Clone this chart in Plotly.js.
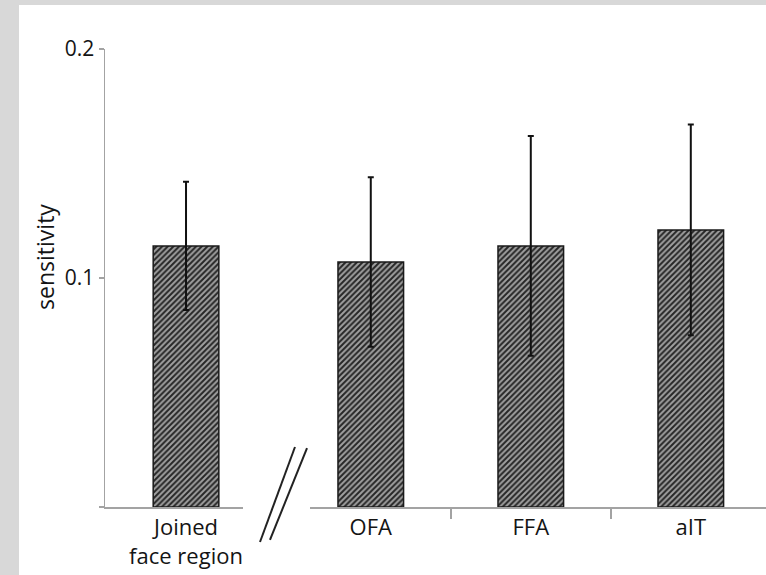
<!DOCTYPE html>
<html>
<head>
<meta charset="utf-8">
<script src="https://cdn.plot.ly/plotly-3.0.1.min.js"></script>
<style>
  html, body { margin: 0; padding: 0; background: #d8d8d8; width: 766px; height: 575px; overflow: hidden; }
  #panel { position: absolute; left: 19px; top: 5px; width: 747px; height: 570px; background: #ffffff; }
  #chart { position: absolute; left: 0; top: 0; width: 766px; height: 575px; }
</style>
</head>
<body>
<div id="panel"></div>
<div id="chart"></div>
<script>
// Data
const joinedCategory = ["Joined<br>face region"];
const joinedValue = [0.114];
const joinedError = [0.028];

const regionCategories = ["OFA", "FFA", "aIT"];
const regionValues = [0.107, 0.114, 0.121];
const regionErrors = [0.037, 0.048, 0.046];

const yTickVals = [0, 0.1, 0.2];
const yTickText = ["", "0.1", "0.2"];
const yTitle = "sensitivity";

const fontFamily = '"Open Sans", "Noto Sans", sans-serif';
const axisGray = "#a3a3a3";
const textColor = "#141414";

const barStyle = {
  color: "#808080",
  line: { color: "#1a1a1a", width: 1.5 },
  pattern: { shape: "/", fgcolor: "#262626", bgcolor: "#a0a0a0", size: 4, solidity: 0.5 }
};
const errStyle = (arr) => ({ type: "data", array: arr, visible: true, color: "#111", thickness: 2, width: 3 });

const traces = [
  {
    type: "bar", x: joinedCategory, y: joinedValue, xaxis: "x", yaxis: "y",
    width: 0.41, marker: barStyle, error_y: errStyle(joinedError), showlegend: false, hoverinfo: "skip"
  },
  {
    type: "bar", x: regionCategories, y: regionValues, xaxis: "x2", yaxis: "y",
    width: 0.41, marker: barStyle, error_y: errStyle(regionErrors), showlegend: false, hoverinfo: "skip"
  }
];

const layout = {
  width: 766, height: 575,
  margin: { l: 105, r: 0, t: 49, b: 68 },
  paper_bgcolor: "rgba(0,0,0,0)",
  plot_bgcolor: "rgba(0,0,0,0)",
  font: { family: fontFamily, size: 20, color: textColor },
  showlegend: false,
  xaxis: {
    type: "category", domain: [0, 0.2088], range: [-0.506, 0.356],
    showline: true, linecolor: axisGray, linewidth: 1.5,
    ticks: "", showgrid: false, zeroline: false, anchor: "y",
    tickfont: { size: 22, color: textColor }, fixedrange: true
  },
  xaxis2: {
    type: "category", domain: [0.3101, 1], range: [-0.38, 2.47],
    showline: true, linecolor: axisGray, linewidth: 1.5,
    ticks: "outside", tickson: "boundaries", ticklen: 10, tickcolor: axisGray, tickwidth: 1.5,
    showgrid: false, zeroline: false, anchor: "y",
    tickfont: { size: 22, color: textColor }, fixedrange: true
  },
  yaxis: {
    range: [0, 0.2], tickvals: yTickVals, ticktext: yTickText,
    showline: true, linecolor: axisGray, linewidth: 1.5,
    ticks: "outside", ticklen: 5, tickcolor: axisGray, tickwidth: 1.5,
    showgrid: false, zeroline: false, anchor: "x",
    tickfont: { size: 21, color: textColor },
    fixedrange: true
  },
  annotations: [
    {
      text: yTitle, xref: "paper", yref: "paper", x: -0.0908, y: 0.546,
      xanchor: "center", yanchor: "middle", textangle: -90, showarrow: false,
      font: { size: 23, color: textColor }
    }
  ],
  shapes: [
    { type: "line", xref: "paper", yref: "paper", x0: 0.2345, y0: -0.0764, x1: 0.2874, y1: 0.131, line: { color: "#222", width: 2 } },
    { type: "line", xref: "paper", yref: "paper", x0: 0.2496, y0: -0.072, x1: 0.3056, y1: 0.1288, line: { color: "#222", width: 2 } }
  ]
};

Plotly.newPlot("chart", traces, layout, { displayModeBar: false, staticPlot: true });
</script>
</body>
</html>
